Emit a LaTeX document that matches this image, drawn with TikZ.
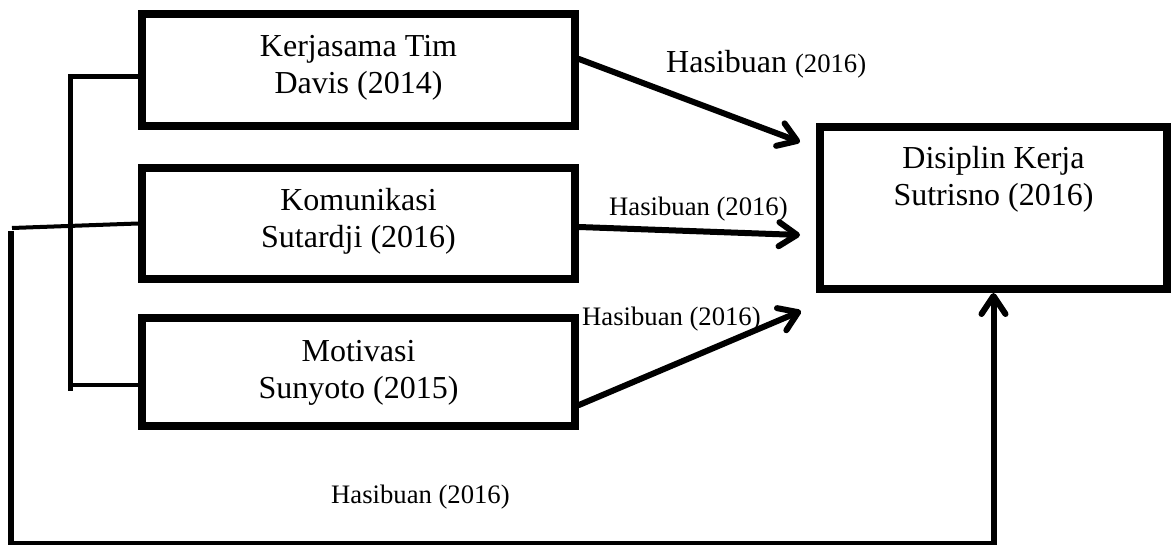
\documentclass[tikz,border=0pt]{standalone}
\usepackage{fontspec}
\setmainfont{Liberation Serif}
\usetikzlibrary{arrows.meta,calc}
\begin{document}
\begin{tikzpicture}[x=1pt,y=-1pt,
  box/.style={draw,line width=8pt,inner sep=0pt,outer sep=4pt},
  boxtext/.style={font=\fontsize{32}{37}\selectfont,align=center,anchor=base,inner sep=0pt},
  lbl/.style={font=\fontsize{26.67}{30}\selectfont,anchor=base west,inner sep=0pt},
  conn/.style={line width=4pt},
  bracket/.style={line width=5pt},
  longline/.style={line width=6pt},
  arr/.style={line width=6pt,line cap=round,-{Straight Barb[length=18pt,width=24pt,line cap=round,line join=round]}},
]
\useasboundingbox (0,0) rectangle (1175,545);
% boxes
\node[box,minimum width=433pt,minimum height=112pt] (k) at (358.5,70) {};
\node[box,minimum width=433pt,minimum height=111pt] (c) at (358.5,223.5) {};
\node[box,minimum width=433pt,minimum height=108pt] (m) at (358.5,372) {};
\node[box,minimum width=347pt,minimum height=162pt] (d) at (993.5,208) {};
% box texts (anchored at the baseline of the last line)
\node[boxtext] (kt) at (358.5,94) {Kerjasama Tim\\Davis (2014)};
\node[boxtext] (ct) at (358.5,248) {Komunikasi\\Sutardji (2016)};
\node[boxtext] (mt) at (358.5,398) {Motivasi\\Sunyoto (2015)};
\node[boxtext] (dt) at (993.5,206) {Disiplin Kerja\\Sutrisno (2016)};
% labels
\node[lbl] (l1) at (666,73) {\fontsize{32}{37}\selectfont Hasibuan \fontsize{26.67}{30}\selectfont(2016)};
\node[lbl] (l2) at (609,216) {Hasibuan (2016)};
\node[lbl] (l3) at (582,325) {Hasibuan (2016)};
\node[lbl] (l4) at (331,503) {Hasibuan (2016)};
% arrow tips
\coordinate (t1) at (800,142);
\coordinate (t2) at (800,235);
\coordinate (t3) at (801,311);
\draw[arr] ([yshift=11pt]k.east) -- (t1);
\draw[arr] ([yshift=-3.5pt]c.east) -- (t2);
\draw[arr] ([yshift=-33pt]m.east) -- (t3);
% bracket
\coordinate (b1) at (70,77);
\coordinate (b2) at (70,391);
\coordinate (b3) at (70,385);
\draw[bracket] ([yshift=-7pt]k.west) -- (b1) -- (b2);
\draw[conn] (b3) -- ([yshift=-13pt]m.west);
% long feedback line
\coordinate (s0) at (12,228);
\draw[conn] (s0) -- (c.west);
\coordinate (p0) at (11,231);
\coordinate (p1) at (11,544);
\draw[longline,-{Straight Barb[length=18pt,width=24pt,line cap=round,line join=round]}] (p0) -- (p1) -- (p1 -| d.south) -- (d.south);
\end{tikzpicture}
\end{document}
